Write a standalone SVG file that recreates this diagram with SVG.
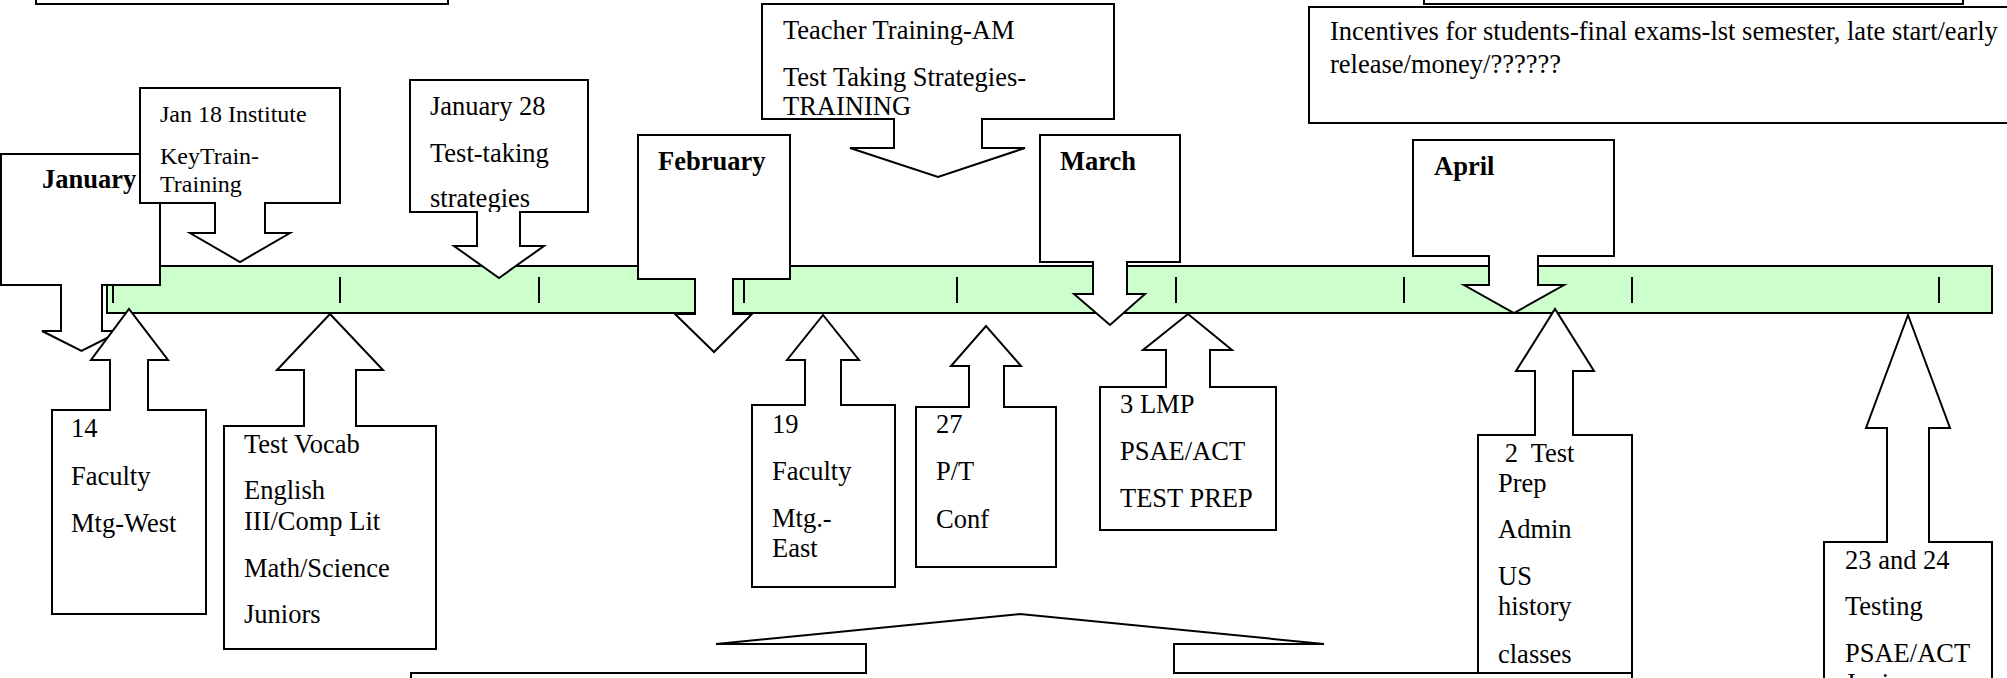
<svg xmlns="http://www.w3.org/2000/svg" width="2007" height="678" viewBox="0 0 2007 678">
<style>
.sh{fill:#ffffff;stroke:#000000;stroke-width:2;stroke-linejoin:miter}
.t{font-family:"Liberation Serif","Times New Roman",serif;font-size:26.5px;fill:#000000}
.s{font-size:24px}
.b{font-weight:bold}
.tick{stroke:#000000;stroke-width:2}
</style>
<defs>
<clipPath id="c28"><rect x="410" y="80" width="178" height="132"/></clipPath>
</defs>
<rect width="2007" height="678" fill="#ffffff"/>
<g id="topleft"><rect class="sh" x="36" y="-50" width="412" height="54"/></g>
<g id="topright"><rect class="sh" x="1424" y="-50" width="539" height="54"/></g>
<g id="incentives">
<rect class="sh" x="1309" y="7" width="720" height="116"/>
<text class="t" x="1330" y="40">Incentives for students-final exams-lst semester, late start/early</text>
<text class="t" x="1330" y="73">release/money/??????</text>
</g>
<g id="timeline">
<rect x="107" y="266" width="1885" height="47" fill="#ccffcc" stroke="#000000" stroke-width="2"/>
<g class="tick">
<line x1="113" y1="277" x2="113" y2="303"/>
<line x1="340" y1="277" x2="340" y2="303"/>
<line x1="539" y1="277" x2="539" y2="303"/>
<line x1="744" y1="277" x2="744" y2="303"/>
<line x1="957" y1="277" x2="957" y2="303"/>
<line x1="1176" y1="277" x2="1176" y2="303"/>
<line x1="1404" y1="277" x2="1404" y2="303"/>
<line x1="1632" y1="277" x2="1632" y2="303"/>
<line x1="1939" y1="277" x2="1939" y2="303"/>
</g>
</g>
<g id="connectors"></g>
<g id="january">
<path class="sh" d="M1,154 H160 V285 H102 V331 H121 L81.5,351 L42,331 H61 V285 H1 Z"/>
<text class="t b" x="42" y="188">January</text>
</g>
<g id="jan18">
<path class="sh" d="M140,88 H340 V203 H265 V233 H290 L240,262 L190,233 H215 V203 H140 Z"/>
<text class="t s" x="160" y="122">Jan 18 Institute</text>
<text class="t s" x="160" y="164">KeyTrain-</text>
<text class="t s" x="160" y="192">Training</text>
</g>
<g id="jan28">
<path class="sh" d="M410,80 H588 V212 H520 V246 H544 L499,278 L454,246 H477 V212 H410 Z"/>
<g clip-path="url(#c28)">
<text class="t" x="430" y="115">January 28</text>
<text class="t" x="430" y="162">Test-taking</text>
<text class="t" x="430" y="207">strategies</text>
</g>
</g>
<g id="teacher">
<path class="sh" d="M762,4 H1114 V119 H982 V148 H1025 L938,177 L850,148 H894 V119 H762 Z"/>
<text class="t" x="783" y="39">Teacher Training-AM</text>
<text class="t" x="783" y="86">Test Taking Strategies-</text>
<text class="t" x="783" y="115">TRAINING</text>
</g>
<g id="february">
<path class="sh" d="M638,135 H790 V279 H733 V314 H752 L714,352 L675,314 H695 V279 H638 Z"/>
<text class="t b" x="658" y="170">February</text>
</g>
<g id="march">
<path class="sh" d="M1040,135 H1180 V262 H1127 V294 H1145 L1110,325 L1074,294 H1093 V262 H1040 Z"/>
<text class="t b" x="1060" y="170">March</text>
</g>
<g id="april">
<path class="sh" d="M1413,140 H1614 V256 H1538 V285 H1564 L1514,313 L1464,285 H1489 V256 H1413 Z"/>
<text class="t b" x="1434" y="175">April</text>
</g>
<g id="n14">
<path class="sh" d="M52,410 H110 V360 H91 L129,309 L168,360 H148 V410 H206 V614 H52 Z"/>
<text class="t" x="71" y="437">14</text>
<text class="t" x="71" y="485">Faculty</text>
<text class="t" x="71" y="532">Mtg-West</text>
</g>
<g id="vocab">
<path class="sh" d="M224,426 H304 V370 H277 L330,314 L383,370 H356 V426 H436 V649 H224 Z"/>
<text class="t" x="244" y="453">Test Vocab</text>
<text class="t" x="244" y="499">English</text>
<text class="t" x="244" y="530">III/Comp Lit</text>
<text class="t" x="244" y="577">Math/Science</text>
<text class="t" x="244" y="623">Juniors</text>
</g>
<g id="n19">
<path class="sh" d="M752,405 H805 V360 H787 L823,315 L859,360 H841 V405 H895 V587 H752 Z"/>
<text class="t" x="772" y="433">19</text>
<text class="t" x="772" y="480">Faculty</text>
<text class="t" x="772" y="527">Mtg.-</text>
<text class="t" x="772" y="557">East</text>
</g>
<g id="n27">
<path class="sh" d="M916,407 H969 V366 H951 L986,326 L1021,366 H1004 V407 H1056 V567 H916 Z"/>
<text class="t" x="936" y="433">27</text>
<text class="t" x="936" y="480">P/T</text>
<text class="t" x="936" y="528">Conf</text>
</g>
<g id="lmp">
<path class="sh" d="M1100,387 H1166 V350 H1143 L1188,314 L1232,350 H1210 V387 H1276 V530 H1100 Z"/>
<text class="t" x="1120" y="413">3 LMP</text>
<text class="t" x="1120" y="460">PSAE/ACT</text>
<text class="t" x="1120" y="507">TEST PREP</text>
</g>
<g id="testprep">
<path class="sh" d="M1478,435 H1535 V371 H1516 L1555,309 L1594,371 H1573 V435 H1632 V720 H1478 Z"/>
<text class="t" x="1498" y="462" xml:space="preserve"> 2  Test</text>
<text class="t" x="1498" y="492">Prep</text>
<text class="t" x="1498" y="538">Admin</text>
<text class="t" x="1498" y="585">US</text>
<text class="t" x="1498" y="615">history</text>
<text class="t" x="1498" y="663">classes</text>
</g>
<g id="testing">
<path class="sh" d="M1824,542 H1887 V428 H1866 L1908,315 L1950,428 H1929 V542 H1992 V720 H1824 Z"/>
<text class="t" x="1845" y="569">23 and 24</text>
<text class="t" x="1845" y="615">Testing</text>
<text class="t" x="1845" y="662">PSAE/ACT</text>
<text class="t" x="1845" y="692">Juniors</text>
</g>
<g id="bottom">
<path class="sh" d="M411,673 H866 V644 H716 L1020,614 L1324,644 H1174 V673 H1632 V760 H411 Z"/>
</g>
</svg>
